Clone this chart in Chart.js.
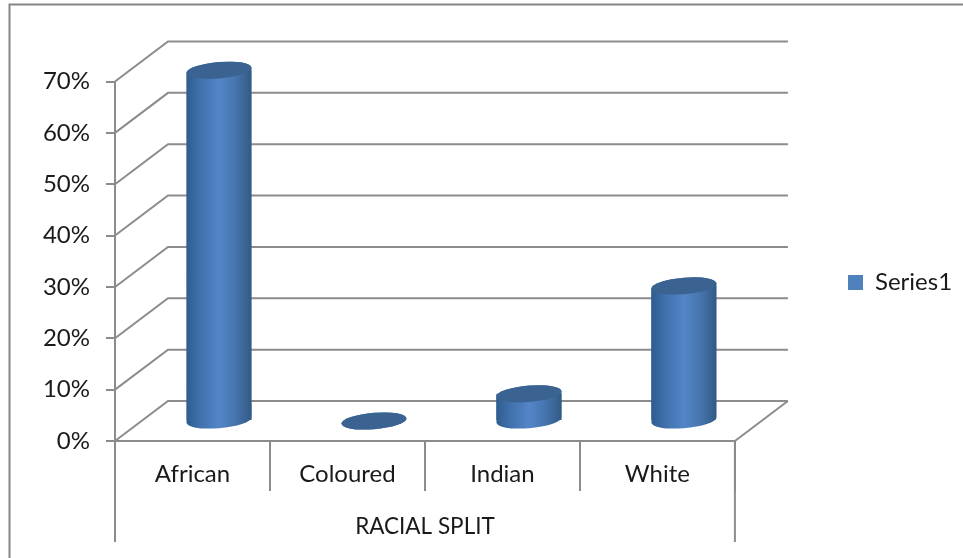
<!DOCTYPE html>
<html>
<head>
<meta charset="utf-8">
<title>Racial split</title>
<script src="https://cdn.jsdelivr.net/npm/chart.js@4"></script>
<style>
  html, body { margin: 0; padding: 0; background: #fff; overflow: hidden; }
  canvas { display: block; }
</style>
</head>
<body>
<canvas id="mycanvas" width="963" height="558"></canvas>
<script>
var categories = ["African", "Coloured", "Indian", "White"];
var series1 = [68.3, 0, 5.3, 26.3];
var yTicks = [0, 10, 20, 30, 40, 50, 60, 70];

var GRAY = "#8c8c8c";
var TEXT = "#1a1a1a";
var FONT = "Lato, 'Open Sans', sans-serif";
// depth of the fake 3d box, bars stand half way in
var DEPTH_X = 53, DEPTH_Y = -40;
// caps are sheared ellipses so their ends stay tangent to the bar sides
var CAP_RX = 32.5, CAP_RY = 8.2, CAP_SHEAR = -0.08;

function barFill(c) {
  var x = c.dataIndex === undefined ? NaN : c.chart.scales.x.getPixelForValue(c.dataIndex);
  if (!isFinite(x)) return "#4f81bd";
  var g = c.chart.ctx.createLinearGradient(x - CAP_RX, 0, x + CAP_RX, 0);
  g.addColorStop(0, "#2f5c90");
  g.addColorStop(0.2, "#3f70aa");
  g.addColorStop(0.5, "#5385c8");
  g.addColorStop(0.75, "#4675ae");
  g.addColorStop(1, "#325a85");
  return g;
}

function capArc(ctx, x, y, from, to) {
  ctx.save();
  ctx.transform(1, CAP_SHEAR, 0, 1, x, y);
  ctx.ellipse(0, 0, CAP_RX, CAP_RY, 0, from, to, true);
  ctx.restore();
}

// side of a cylinder: base ellipse lower half, top ellipse upper half
function cylinderPath(ctx, el) {
  capArc(ctx, el.x, el.base, Math.PI, 0);
  capArc(ctx, el.x, el.y, 0, -Math.PI);
  ctx.closePath();
}

function line(ctx, pts) {
  ctx.beginPath();
  ctx.moveTo(pts[0], pts[1]);
  for (var i = 2; i < pts.length; i += 2) ctx.lineTo(pts[i], pts[i + 1]);
  ctx.stroke();
}

var box3d = {
  id: "box3d",
  beforeDraw: function(chart) {
    var ctx = chart.ctx;
    // outer frame, open on the right and at the bottom
    ctx.save();
    ctx.strokeStyle = "#868686";
    ctx.lineWidth = 2;
    line(ctx, [9.5, 558, 9.5, 4.5, 963, 4.5]);
    ctx.restore();
  },
  beforeDatasetsDraw: function(chart) {
    var ctx = chart.ctx, a = chart.chartArea, y = chart.scales.y;
    ctx.save();
    ctx.strokeStyle = GRAY;
    ctx.lineWidth = 2;
    yTicks.forEach(function(t) {
      var py = y.getPixelForValue(t);
      line(ctx, [a.left, py, a.left + DEPTH_X, py + DEPTH_Y, a.right + DEPTH_X, py + DEPTH_Y]);
    });
    var base = y.getPixelForValue(0);
    line(ctx, [a.right, base, a.right + DEPTH_X, base + DEPTH_Y]);
    // the two outer separators run on down past the category row
    line(ctx, [a.left, base, a.left, 542]);
    line(ctx, [a.right, base, a.right, 542]);
    ctx.restore();
  },
  beforeDatasetDraw: function(chart, args) {
    var ctx = chart.ctx;
    ctx.save();
    ctx.translate(DEPTH_X / 2, DEPTH_Y / 2);
    args.meta.data.forEach(function(el) {
      ctx.beginPath();
      cylinderPath(ctx, el);
      ctx.fillStyle = el.options.backgroundColor;
      ctx.fill();
    });
    // the square bar ends must not poke out past the curved ones
    ctx.beginPath();
    args.meta.data.forEach(function(el) { cylinderPath(ctx, el); });
    ctx.clip();
  },
  afterDatasetDraw: function(chart, args) {
    var ctx = chart.ctx;
    ctx.restore();
    ctx.save();
    ctx.translate(DEPTH_X / 2, DEPTH_Y / 2);
    args.meta.data.forEach(function(el) {
      ctx.beginPath();
      capArc(ctx, el.x, el.y, 0, -Math.PI * 2);
      ctx.fillStyle = "#3b6392";
      ctx.fill();
    });
    ctx.restore();
  },
  afterLayout: function(chart) {
    // park the legend out to the right of the box
    var l = chart.legend;
    var w = l.right - l.left;
    l.left = 838;
    l.right = 838 + w;
    l.top = 200;
    l.bottom = 365;
  }
};

var LineGraph = new Chart(document.getElementById("mycanvas"), {
  type: "bar",
  data: {
    labels: categories,
    datasets: [{
      label: "Series1",
      data: series1,
      backgroundColor: barFill,
      borderWidth: 0,
      categoryPercentage: 0.42,
      barPercentage: 1
    }]
  },
  plugins: [box3d],
  options: {
    responsive: false,
    animation: false,
    layout: { padding: { top: 81.5, right: 104, left: 0, bottom: 0 } },
    plugins: {
      tooltip: { enabled: false },
      legend: {
        position: "right",
        labels: {
          boxWidth: 15,
          boxHeight: 15,
          color: TEXT,
          font: { family: FONT, size: 24 },
          generateLabels: function(chart) {
            return Chart.defaults.plugins.legend.labels.generateLabels(chart).map(function(item) {
              item.fillStyle = "#4f81bd";
              return item;
            });
          }
        }
      }
    },
    scales: {
      x: {
        afterFit: function(scale) { scale.height = 117; },
        grid: { offset: true, drawOnChartArea: false, tickLength: 50, tickColor: GRAY, lineWidth: 2 },
        border: { color: GRAY, width: 2 },
        ticks: { color: TEXT, font: { family: FONT, size: 24 }, padding: -31, maxRotation: 0, autoSkip: false },
        title: {
          display: true,
          text: "RACIAL SPLIT",
          color: TEXT,
          font: { family: FONT, size: 22.5 },
          padding: { top: 0, bottom: 18 }
        }
      },
      y: {
        min: 0,
        max: 70,
        afterFit: function(scale) { scale.width = 115; },
        afterBuildTicks: function(scale) {
          scale.ticks = yTicks.map(function(v) { return { value: v }; });
        },
        grid: { drawOnChartArea: false, tickLength: 9, tickColor: GRAY, lineWidth: 2 },
        border: { color: GRAY, width: 2 },
        ticks: {
          color: TEXT,
          font: { family: FONT, size: 24 },
          padding: 16,
          callback: function(v) { return v + "%"; }
        }
      }
    }
  }
});
</script>
</body>
</html>
